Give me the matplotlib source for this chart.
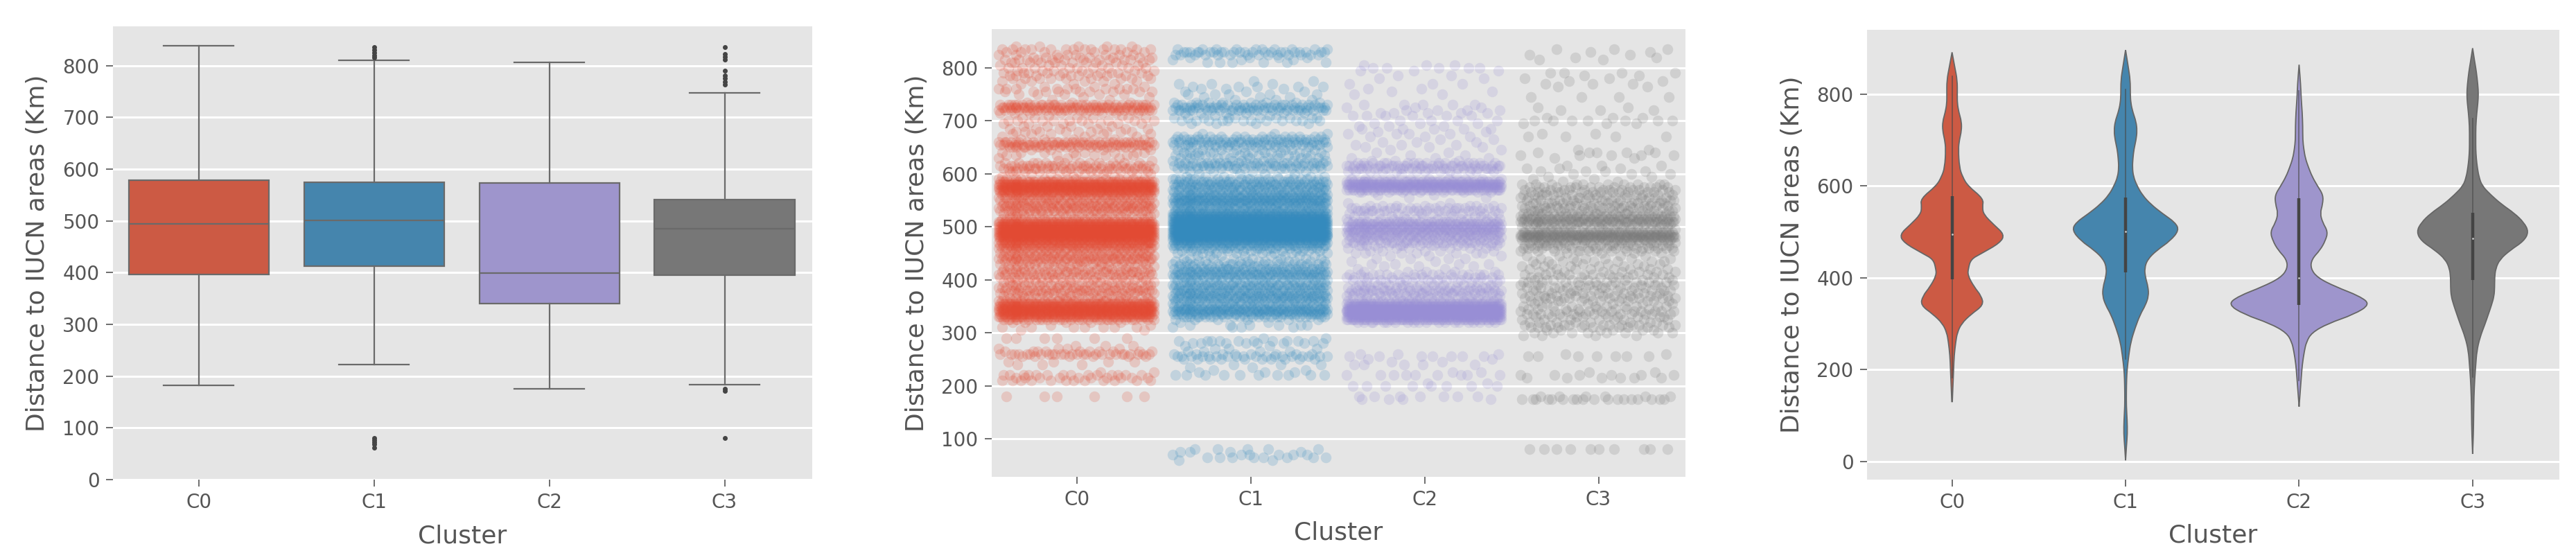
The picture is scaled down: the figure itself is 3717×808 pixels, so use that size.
#!/usr/bin/env python3
"""Distance to IUCN areas per cluster: box plot, jittered strip plot, violin plot."""
import matplotlib
matplotlib.use("Agg")
import matplotlib.pyplot as plt
from matplotlib.patches import PathPatch
from matplotlib.path import Path
import numpy as np

CLUSTERS = ["C0", "C1", "C2", "C3"]
COLORS = ["#E24A33", "#348ABD", "#988ED5", "#777777"]
MUTED = ["#CC5A44", "#4585AD", "#9E95CC", "#777777"]

# ── box plot values ─────────────────────────────────────────────────────────
WHISK_LOW = [182, 222, 176, 184]
Q1 = [397, 412, 340, 395]
MEDIAN = [494, 501, 399, 485]
Q3 = [578, 575, 573, 541]
WHISK_HIGH = [839, 810, 807, 747]
FLIERS_C0 = []
FLIERS_C1 = [62, 68, 72, 76, 80, 816, 820, 825, 830, 836]
FLIERS_C2 = []
FLIERS_C3 = [81, 172, 176, 764, 769, 775, 781, 790, 812, 817, 823, 836]

# ── strip plot: number of points seen around each distance level ────────────
LEVELS = [
    60, 65, 70, 75, 80, 85, 90, 95, 100, 105, 110, 115, 120, 125, 130, 135, 140, 145, 150, 155,
    160, 165, 170, 175, 180, 185, 190, 195, 200, 205, 210, 215, 220, 225, 230, 235, 240, 245, 250, 255,
    260, 265, 270, 275, 280, 285, 290, 295, 300, 305, 310, 315, 320, 325, 330, 335, 340, 345, 350, 355,
    360, 365, 370, 375, 380, 385, 390, 395, 400, 405, 410, 415, 420, 425, 430, 435, 440, 445, 450, 455,
    460, 465, 470, 475, 480, 485, 490, 495, 500, 505, 510, 515, 520, 525, 530, 535, 540, 545, 550, 555,
    560, 565, 570, 575, 580, 585, 590, 595, 600, 605, 610, 615, 620, 625, 630, 635, 640, 645, 650, 655,
    660, 665, 670, 675, 680, 685, 690, 695, 700, 705, 710, 715, 720, 725, 730, 735, 740, 745, 750, 755,
    760, 765, 770, 775, 780, 785, 790, 795, 800, 805, 810, 815, 820, 825, 830, 835, 840, 845, 850, 855,
]
COUNTS_C0 = [
    0, 0, 0, 0, 0, 0, 0, 0, 0, 0, 0, 0, 0, 0, 0, 0, 0, 0, 0, 0,
    0, 0, 0, 0, 6, 0, 0, 0, 0, 0, 12, 10, 14, 2, 0, 0, 3, 4, 0, 6,
    26, 10, 4, 3, 0, 0, 6, 0, 0, 2, 7, 2, 5, 30, 60, 80, 80, 75, 85, 65,
    26, 14, 12, 20, 30, 22, 14, 18, 10, 18, 22, 28, 16, 14, 12, 22, 40, 30, 14, 20,
    36, 50, 55, 60, 80, 100, 110, 105, 90, 80, 50, 18, 14, 18, 26, 28, 32, 24, 24, 28,
    30, 55, 70, 90, 85, 60, 14, 3, 6, 14, 26, 24, 12, 2, 3, 8, 8, 4, 20, 36,
    32, 6, 3, 5, 9, 6, 4, 7, 9, 6, 2, 8, 30, 46, 30, 3, 2, 2, 5, 9,
    10, 3, 3, 5, 9, 10, 10, 6, 9, 6, 10, 12, 8, 8, 6, 14, 5, 0, 0, 0,
]
COUNTS_C1 = [
    2, 8, 6, 4, 5, 0, 0, 0, 0, 0, 0, 0, 0, 0, 0, 0, 0, 0, 0, 0,
    0, 0, 0, 0, 0, 0, 0, 0, 0, 0, 0, 0, 10, 3, 2, 2, 3, 0, 10, 18,
    8, 4, 3, 2, 8, 10, 2, 0, 0, 0, 4, 6, 2, 6, 24, 36, 45, 42, 30, 20,
    24, 34, 36, 28, 26, 34, 30, 18, 14, 26, 40, 36, 24, 18, 18, 14, 8, 8, 8, 14,
    26, 38, 50, 70, 95, 110, 115, 110, 110, 100, 95, 90, 80, 60, 30, 26, 28, 40, 55, 48,
    32, 24, 24, 28, 36, 30, 18, 6, 4, 4, 16, 28, 22, 6, 10, 14, 14, 8, 10, 22,
    28, 26, 14, 3, 0, 0, 0, 4, 12, 10, 2, 6, 26, 30, 20, 8, 3, 3, 5, 3,
    3, 5, 3, 2, 0, 0, 0, 0, 0, 0, 6, 3, 4, 14, 22, 10, 0, 0, 0, 0,
]
COUNTS_C2 = [
    0, 0, 0, 0, 0, 0, 0, 0, 0, 0, 0, 0, 0, 0, 0, 0, 0, 0, 0, 0,
    0, 0, 0, 4, 7, 0, 0, 0, 8, 2, 0, 0, 9, 2, 0, 0, 5, 2, 2, 7,
    3, 0, 0, 0, 0, 0, 0, 0, 0, 0, 0, 0, 20, 70, 90, 100, 110, 100, 90, 60,
    20, 12, 14, 22, 28, 18, 10, 10, 10, 14, 16, 5, 2, 3, 4, 2, 4, 3, 7, 5,
    7, 16, 26, 22, 24, 32, 36, 45, 50, 46, 28, 10, 10, 10, 18, 18, 8, 2, 0, 2,
    2, 10, 45, 75, 85, 60, 10, 0, 2, 12, 26, 30, 16, 3, 3, 2, 2, 2, 3, 3,
    3, 2, 3, 4, 2, 5, 3, 3, 4, 0, 6, 5, 4, 3, 5, 0, 0, 0, 2, 2,
    2, 0, 3, 0, 2, 2, 0, 3, 5, 3, 0, 0, 0, 0, 0, 0, 0, 0, 0, 0,
]
COUNTS_C3 = [
    0, 0, 0, 0, 10, 0, 0, 0, 0, 0, 0, 0, 0, 0, 0, 0, 0, 0, 0, 0,
    0, 0, 0, 18, 6, 0, 0, 0, 0, 0, 0, 6, 6, 2, 0, 0, 0, 0, 0, 7,
    2, 0, 0, 0, 0, 0, 0, 4, 8, 6, 10, 12, 8, 8, 10, 14, 12, 8, 10, 6,
    12, 12, 12, 10, 12, 12, 10, 12, 8, 10, 10, 8, 8, 6, 6, 8, 6, 4, 4, 12,
    18, 20, 18, 28, 60, 60, 38, 14, 12, 24, 38, 40, 30, 18, 14, 18, 16, 14, 16, 14,
    14, 14, 12, 14, 10, 2, 2, 2, 3, 4, 3, 3, 0, 0, 2, 5, 5, 2, 0, 0,
    0, 0, 4, 2, 0, 0, 0, 3, 7, 3, 0, 0, 3, 2, 0, 0, 0, 4, 0, 0,
    0, 2, 3, 2, 2, 2, 4, 0, 0, 0, 0, 2, 2, 2, 2, 3, 0, 0, 0, 0,
]
# hand-typed band offsets, cycled; single points' x can't be told apart in the picture
JITTER = [
    0.37, 0.82, 0.05, 0.61, 0.29, 0.93, 0.14, 0.48, 0.74, 0.02, 0.55, 0.88, 0.21, 0.67, 0.33, 0.97, 0.09,
    0.43, 0.78, 0.17, 0.59, 0.26, 0.85, 0.51, 0.11, 0.69, 0.39, 0.95, 0.07, 0.63, 0.24, 0.81, 0.46, 0.16,
    0.72, 0.31, 0.91, 0.57, 0.03, 0.41, 0.76, 0.19, 0.65, 0.99, 0.28, 0.53, 0.12, 0.87, 0.35, 0.7, 0.06,
    0.45, 0.83, 0.23, 0.6, 0.94, 0.15, 0.5, 0.79, 0.32, 0.01, 0.66, 0.4, 0.89, 0.2, 0.56, 0.75, 0.1,
    0.36, 0.92, 0.27, 0.62, 0.08, 0.47, 0.84, 0.18, 0.71, 0.34, 0.96, 0.54, 0.13, 0.42, 0.8, 0.25, 0.64,
    0.04, 0.52, 0.9, 0.3, 0.73, 0.22, 0.58, 0.98, 0.38, 0.77, 0.0, 0.44, 0.86, 0.68, 0.49, 0.11,
]

# ── violin outlines: distance and half width (in px of the reference crop) ──
VIOLIN_Y_C0 = [130, 160, 200, 230, 260, 280, 300, 320, 340, 360, 380, 405, 420, 440, 452, 476, 494,
               515, 538, 554, 572, 600, 620, 640, 680, 700, 720, 740, 760, 780, 800, 830, 860, 891]
VIOLIN_W_C0 = [0.5, 1.5, 3, 4, 7, 10, 18, 36, 60, 56, 42, 30, 31, 36, 55, 92, 100,
               80, 60, 58, 60, 30, 20, 14, 12, 14, 18, 18, 13, 10, 10, 10, 5, 0]
VIOLIN_Y_C1 = [2, 30, 60, 90, 120, 150, 180, 200, 230, 260, 290, 320, 340, 360, 380, 400, 420, 440,
               460, 480, 503, 520, 540, 560, 580, 600, 620, 640, 660, 680, 700, 720, 740, 760, 780,
               800, 830, 860, 896]
VIOLIN_W_C1 = [0, 1.5, 3.5, 3, 1.5, 1.5, 2, 3, 6, 10, 18, 28, 38, 44, 43, 38, 36, 42,
               60, 85, 102, 95, 70, 48, 32, 22, 15, 13, 14, 16, 20, 22, 20, 14, 10,
               9, 9, 5, 0]
VIOLIN_Y_C2 = [119, 150, 180, 210, 240, 260, 280, 300, 320, 342, 360, 380, 400, 420, 440, 460, 480,
               500, 520, 540, 560, 580, 600, 620, 640, 660, 680, 700, 730, 760, 790, 820, 864]
VIOLIN_W_C2 = [0, 2, 4, 6, 10, 14, 24, 55, 105, 136, 115, 70, 35, 22, 24, 40, 50,
               55, 45, 40, 45, 46, 35, 25, 18, 12, 9, 7, 7, 6, 4, 3, 0]
VIOLIN_Y_C3 = [16, 60, 100, 140, 180, 210, 240, 270, 300, 320, 340, 360, 380, 400, 420, 440, 460,
               480, 500, 520, 540, 560, 580, 600, 620, 640, 660, 680, 700, 730, 760, 780, 800, 820,
               850, 870, 900]
VIOLIN_W_C3 = [0, 1.5, 2, 2.5, 4, 6, 8, 14, 24, 30, 36, 41, 42, 42, 44, 52, 72,
               98, 107, 98, 80, 55, 35, 18, 12, 9, 7, 6, 6, 6, 8, 10, 11, 10,
               7, 4, 0]
VIOLIN_W_PER_UNIT = 331.0

W, H = 3717, 808
TEXT = "#555555"

plt.rcParams.update({
    "font.family": "DejaVu Sans",
    "axes.facecolor": "#E5E5E5",
    "axes.edgecolor": "white",
    "axes.labelcolor": TEXT,
    "xtick.color": TEXT,
    "ytick.color": TEXT,
    "xtick.labelsize": 20,
    "ytick.labelsize": 20,
    "axes.labelsize": 26,
})


def make_axes(fig, left, right, top, bottom, ylim, yticks, label_x):
    ax = fig.add_axes([left / W, 1 - bottom / H, (right - left) / W, (bottom - top) / H])
    ax.set_xlim(-0.49, 3.5)
    ax.set_ylim(*ylim)
    ax.set_xticks(range(4), CLUSTERS)
    ax.set_yticks(yticks)
    ax.set_axisbelow(True)
    ax.grid(True, axis="y", color="white", lw=2.2)
    ax.tick_params(length=7, width=1.2, pad=7)
    for s in ax.spines.values():
        s.set_visible(False)
    ax.set_xlabel("Cluster")
    ax.xaxis.set_label_coords(0.5, -0.098)
    ax.set_ylabel("Distance to IUCN areas (Km)")
    ax.yaxis.set_label_coords((label_x + 20 - left) / (right - left), 0.5)
    return ax


# ── left panel ───────────────────────────────────────────────────────────────

def plot_box(ax):
    fliers = [FLIERS_C0, FLIERS_C1, FLIERS_C2, FLIERS_C3]
    stats = [dict(whislo=WHISK_LOW[i], q1=Q1[i], med=MEDIAN[i], q3=Q3[i], whishi=WHISK_HIGH[i],
                  fliers=fliers[i], label=CLUSTERS[i]) for i in range(4)]
    line = dict(color="#6A6A6A", lw=1.6)
    parts = ax.bxp(stats, positions=range(4), widths=0.8, patch_artist=True,
                   medianprops=line, whiskerprops=line, capprops=line,
                   boxprops=dict(edgecolor="#6A6A6A", lw=1.6),
                   flierprops=dict(marker="o", ms=4, mfc="#444444", mec="#444444"))
    for box, c in zip(parts["boxes"], MUTED):
        box.set_facecolor(c)
    ax.set_xlim(-0.49, 3.5)
    ax.set_xticks(range(4), CLUSTERS)


# ── middle panel ─────────────────────────────────────────────────────────────

def plot_strip(ax):
    counts = [COUNTS_C0, COUNTS_C1, COUNTS_C2, COUNTS_C3]
    for i, c in enumerate(counts):
        y = np.repeat(LEVELS, c)
        spread = np.resize(np.roll(JITTER, 17 * i), len(y))
        ax.scatter(i - 0.45 + 0.9 * spread, y, s=125, color=COLORS[i], alpha=0.2, linewidths=0)


# ── right panel ──────────────────────────────────────────────────────────────

def smooth_outline(xs, ys):
    """Closed quadratic curve with the read points as control points."""
    pts = np.column_stack([xs, ys])
    verts = [pts[0]]
    codes = [Path.MOVETO]
    for a, b in zip(pts[1:-1], pts[2:]):
        verts += [a, (a + b) / 2]
        codes += [Path.CURVE3, Path.CURVE3]
    verts.append(pts[-1])
    codes.append(Path.LINETO)
    verts.append(pts[0])
    codes.append(Path.CLOSEPOLY)
    return Path(verts, codes)


def plot_violin(ax):
    ys = [VIOLIN_Y_C0, VIOLIN_Y_C1, VIOLIN_Y_C2, VIOLIN_Y_C3]
    ws = [VIOLIN_W_C0, VIOLIN_W_C1, VIOLIN_W_C2, VIOLIN_W_C3]
    for i in range(4):
        half = np.array(ws[i]) / VIOLIN_W_PER_UNIT
        y = np.array(ys[i], dtype=float)
        xs = np.concatenate([i - half, (i + half)[::-1]])
        path = smooth_outline(xs, np.concatenate([y, y[::-1]]))
        ax.add_patch(PathPatch(path, facecolor=MUTED[i], edgecolor="#666666", lw=1.3))
        ax.plot([i, i], [WHISK_LOW[i], WHISK_HIGH[i]], color="#4A4A4A", lw=1.2, alpha=0.7)
        ax.plot([i, i], [Q1[i], Q3[i]], color="#444444", lw=3.2, solid_capstyle="butt")
        ax.plot(i, MEDIAN[i], "o", ms=2, color="#CCCCCC", mew=0)


def main():
    fig = plt.figure(figsize=(W / 100, H / 100), dpi=100, facecolor="white")

    ax1 = make_axes(fig, 163, 1172, 38, 692, (0, 876), range(0, 900, 100), 51)
    plot_box(ax1)

    ax2 = make_axes(fig, 1431, 2432, 42, 688, (28, 873), range(100, 900, 100), 1320)
    plot_strip(ax2)

    ax3 = make_axes(fig, 2694, 3693, 43, 692, (-40, 940), range(0, 1000, 200), 2583)
    plot_violin(ax3)

    fig.savefig("out.png", dpi=100)


if __name__ == "__main__":
    main()
